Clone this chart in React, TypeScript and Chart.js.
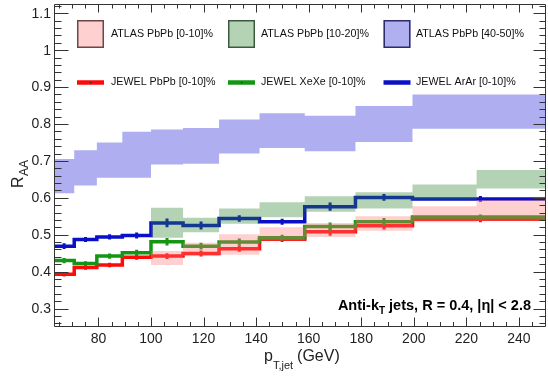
import React, { useEffect, useRef } from 'react';
import { Chart, registerables } from 'chart.js';
Chart.register(...registerables);

// ---- data ----
const jewelEdges = [63.1, 70.8, 79.4, 89.1, 100, 112.2, 125.9, 141.3, 158.5, 177.8, 199.5, 251.2];
const jewelPbPb = [0.393, 0.411, 0.418, 0.439, 0.442, 0.449, 0.462, 0.488, 0.508, 0.524, 0.542];
const jewelPbPbErr = [0.006, 0.006, 0.006, 0.007, 0.008, 0.008, 0.008, 0.008, 0.011, 0.010, 0.008];
const jewelXeXe = [0.430, 0.422, 0.442, 0.451, 0.481, 0.469, 0.480, 0.492, 0.522, 0.535, 0.548];
const jewelXeXeErr = [0.007, 0.006, 0.007, 0.008, 0.010, 0.009, 0.010, 0.008, 0.011, 0.010, 0.007];
const jewelArAr = [0.469, 0.487, 0.494, 0.498, 0.532, 0.525, 0.544, 0.535, 0.576, 0.601, 0.597];
const jewelArArErr = [0.008, 0.007, 0.007, 0.008, 0.012, 0.011, 0.009, 0.008, 0.011, 0.009, 0.008];

const atlasEdges = [63.1, 70.8, 79.4, 89.1, 100, 112.2, 125.9, 141.3, 158.5, 177.8, 199.5, 223.9, 251.2];
const atlas010Low = [null, null, null, null, 0.418, 0.442, 0.446, 0.484, 0.494, 0.511, 0.534, 0.537];
const atlas010High = [null, null, null, null, 0.456, 0.478, 0.501, 0.520, 0.532, 0.550, 0.577, 0.594];
const atlas1020Low = [null, null, null, null, 0.492, 0.507, 0.530, 0.547, 0.562, 0.571, 0.595, 0.625];
const atlas1020High = [null, null, null, null, 0.573, 0.546, 0.571, 0.588, 0.604, 0.615, 0.636, 0.675];
const atlas4050Low = [0.612, 0.633, 0.654, 0.654, 0.690, 0.692, 0.720, 0.735, 0.726, 0.751, 0.787, 0.787];
const atlas4050High = [0.705, 0.729, 0.750, 0.779, 0.785, 0.789, 0.812, 0.829, 0.822, 0.849, 0.880, 0.880];

const xTicks = [80, 100, 120, 140, 160, 180, 200, 220, 240];
const xTickLabels = ['80', '100', '120', '140', '160', '180', '200', '220', '240'];
const yTicks = [0.3, 0.4, 0.5, 0.6, 0.7, 0.8, 0.9, 1.0, 1.1];
const yTickLabels = ['0.3', '0.4', '0.5', '0.6', '0.7', '0.8', '0.9', '1', '1.1'];

const bandLabels = ['ATLAS PbPb [0-10]%', 'ATLAS PbPb [10-20]%', 'ATLAS PbPb [40-50]%'];
const lineLabels = ['JEWEL PbPb [0-10]%', 'JEWEL XeXe [0-10]%', 'JEWEL ArAr [0-10]%'];

const X_MIN = 63.1, X_MAX = 250.3, Y_MIN = 0.25, Y_MAX = 1.125;

// ---- styles ----
const RED = '#ff0a0a';
const GREEN = '#149614';
const BLUE = '#0a10c8';
const PINK_FILL = 'rgba(255,120,120,0.35)';
const GREEN_FILL = 'rgba(40,130,40,0.35)';
const BLUE_FILL = 'rgba(70,70,222,0.44)';
const FONT = '"Liberation Sans", Arial, Helvetica, sans-serif';

type Pt = { x: number; y: number | null };

function stepPoints(edges: number[], vals: (number | null)[]): Pt[] {
  const pts: Pt[] = [];
  for (let i = 0; i < vals.length; i++) {
    const v = vals[i];
    if (v == null) {
      if (pts.length && pts[pts.length - 1].y != null) pts.push({ x: edges[i], y: null });
      continue;
    }
    pts.push({ x: edges[i], y: v });
    const next = i + 1 < vals.length ? vals[i + 1] : null;
    if (next == null) pts.push({ x: edges[i + 1], y: v });
  }
  return pts;
}

function errPoints(edges: number[], vals: number[], errs: number[]): Pt[] {
  const pts: Pt[] = [];
  for (let i = 0; i < vals.length; i++) {
    const c = (edges[i] + edges[i + 1]) / 2;
    pts.push({ x: c, y: vals[i] - errs[i] });
    pts.push({ x: c, y: vals[i] + errs[i] });
    pts.push({ x: c, y: null });
  }
  return pts;
}

const bandDs = (pts: Pt[], fill: any, color: string) => ({
  data: pts,
  stepped: true,
  fill,
  backgroundColor: color,
  borderColor: 'rgba(0,0,0,0)',
  borderWidth: 1,
  pointRadius: 0,
  spanGaps: false,
  order: 0,
});

const lineDs = (pts: Pt[], color: string, order: number, stepped: boolean, width: number) => ({
  data: pts,
  stepped,
  fill: false,
  borderColor: color,
  backgroundColor: color,
  borderWidth: width,
  pointRadius: 0,
  spanGaps: false,
  borderCapStyle: 'butt',
  borderJoinStyle: 'miter',
  order,
});

const framePlugin = {
  id: 'rootFrame',
  afterDraw(chart: any) {
    const { ctx, chartArea: a, scales } = chart;
    const xs = scales.x, ys = scales.y;
    const L = Math.round(a.left) + 0.5, R = Math.round(a.right) - 0.5;
    const T = Math.round(a.top) + 0.5, B = Math.round(a.bottom) - 0.5;
    ctx.save();
    ctx.strokeStyle = '#333';
    ctx.lineWidth = 1;
    ctx.beginPath();
    ctx.rect(L, T, R - L, B - T);
    // x ticks
    for (let v = 65; v <= 250; v += 5) {
      const px = Math.round(xs.getPixelForValue(v)) + 0.5;
      if (px <= L || px >= R) continue;
      const major = v % 20 === 0;
      ctx.moveTo(px, B); ctx.lineTo(px, B - (major ? 9 : 4.5));
      ctx.moveTo(px, T); ctx.lineTo(px, T + (major ? 8 : 4));
    }
    // y ticks
    for (let k = 26; k <= 112; k += 2) {
      const v = k / 100;
      const py = Math.round(ys.getPixelForValue(v)) + 0.5;
      if (py <= T || py >= B) continue;
      const major = k % 10 === 0;
      ctx.moveTo(L, py); ctx.lineTo(L + (major ? 14 : 7), py);
      ctx.moveTo(R, py); ctx.lineTo(R - (major ? 12 : 6), py);
    }
    ctx.stroke();

    // tick labels
    ctx.fillStyle = '#222';
    ctx.font = `14px ${FONT}`;
    ctx.textAlign = 'center';
    ctx.textBaseline = 'alphabetic';
    xTicks.forEach((v, i) => {
      ctx.fillText(xTickLabels[i], xs.getPixelForValue(v), 343);
    });
    ctx.textAlign = 'right';
    ctx.textBaseline = 'middle';
    yTicks.forEach((v, i) => {
      ctx.fillText(yTickLabels[i], 51, ys.getPixelForValue(v) + 0.5);
    });

    // x title
    ctx.textAlign = 'left';
    ctx.textBaseline = 'alphabetic';
    let xx = 264;
    ctx.font = `16px ${FONT}`;
    ctx.fillText('p', xx, 361);
    xx += ctx.measureText('p').width;
    ctx.font = `11px ${FONT}`;
    ctx.fillText('T,jet', xx, 369);
    xx += ctx.measureText('T,jet').width + 4;
    ctx.font = `16px ${FONT}`;
    ctx.fillText('(GeV)', xx, 361);

    // y title
    ctx.save();
    ctx.translate(23, 188);
    ctx.rotate(-Math.PI / 2);
    ctx.font = `16px ${FONT}`;
    ctx.fillText('R', 0, 0);
    const rw = ctx.measureText('R').width;
    ctx.font = `12px ${FONT}`;
    ctx.fillText('AA', rw + 0.5, 4.5);
    ctx.restore();

    // annotation
    ctx.fillStyle = '#000';
    const p1 = 'Anti-k', p2 = 'T', p3 = ' jets, R = 0.4, |\u03b7| < 2.8';
    ctx.font = `bold 14.5px ${FONT}`;
    const w1 = ctx.measureText(p1).width, w3 = ctx.measureText(p3).width;
    ctx.font = `bold 10px ${FONT}`;
    const w2 = ctx.measureText(p2).width;
    let ax = 531 - (w1 + w2 + w3);
    ctx.font = `bold 14.5px ${FONT}`;
    ctx.fillText(p1, ax, 310);
    ax += w1;
    ctx.font = `bold 10px ${FONT}`;
    ctx.fillText(p2, ax, 314);
    ax += w2;
    ctx.font = `bold 14.5px ${FONT}`;
    ctx.fillText(p3, ax, 310);

    // legend
    const colBox = [77, 228, 383.5];
    const colText = [111, 261, 416];
    const boxFill = ['#ffd0d0', '#b4d3b4', '#b0b0f0'];
    const boxLine = ['#6e4646', '#3e5a3e', '#2c2c6c'];
    const lineCol = [RED, GREEN, BLUE];
    ctx.font = `10.7px ${FONT}`;
    ctx.textBaseline = 'middle';
    for (let i = 0; i < 3; i++) {
      ctx.fillStyle = boxFill[i];
      ctx.fillRect(colBox[i], 20, 27, 28);
      ctx.strokeStyle = boxLine[i];
      ctx.lineWidth = 1.5;
      ctx.strokeRect(colBox[i] + 0.75, 20.75, 25.5, 26.5);
      ctx.fillStyle = '#111';
      ctx.fillText(bandLabels[i], colText[i], 34.5);

      ctx.strokeStyle = lineCol[i];
      ctx.lineWidth = 4.5;
      ctx.beginPath();
      ctx.moveTo(colBox[i], 82.5);
      ctx.lineTo(colBox[i] + 27, 82.5);
      ctx.stroke();
      ctx.fillStyle = '#222';
      ctx.fillRect(colBox[i] + 13, 82, 1.2, 1.2);
      ctx.fillStyle = '#111';
      ctx.fillText(lineLabels[i], colText[i], 82.5);
    }
    ctx.restore();
  },
};

export default function App() {
  const ref = useRef<HTMLCanvasElement | null>(null);
  useEffect(() => {
    if (!ref.current) return;
    const datasets: any[] = [
      bandDs(stepPoints(atlasEdges, atlas4050High), '+1', BLUE_FILL),
      bandDs(stepPoints(atlasEdges, atlas4050Low), false, BLUE_FILL),
      bandDs(stepPoints(atlasEdges, atlas1020High), '+1', GREEN_FILL),
      bandDs(stepPoints(atlasEdges, atlas1020Low), false, GREEN_FILL),
      bandDs(stepPoints(atlasEdges, atlas010High), '+1', PINK_FILL),
      bandDs(stepPoints(atlasEdges, atlas010Low), false, PINK_FILL),
      lineDs(stepPoints(jewelEdges, jewelArAr), BLUE, 1, true, 3.5),
      lineDs(errPoints(jewelEdges, jewelArAr, jewelArArErr), BLUE, 1, false, 3),
      lineDs(stepPoints(jewelEdges, jewelXeXe), GREEN, 2, true, 3.5),
      lineDs(errPoints(jewelEdges, jewelXeXe, jewelXeXeErr), GREEN, 2, false, 3),
      lineDs(stepPoints(jewelEdges, jewelPbPb), RED, 3, true, 3.5),
      lineDs(errPoints(jewelEdges, jewelPbPb, jewelPbPbErr), RED, 3, false, 3),
    ];
    const chart = new Chart(ref.current, {
      type: 'line',
      data: { datasets },
      options: {
        animation: false,
        responsive: false,
        maintainAspectRatio: false,
        devicePixelRatio: 1,
        events: [],
        parsing: true,
        layout: { padding: { left: 54, right: 2, top: 4, bottom: 51 } },
        scales: {
          x: { type: 'linear', min: X_MIN, max: X_MAX, display: false },
          y: { type: 'linear', min: Y_MIN, max: Y_MAX, display: false },
        },
        plugins: { legend: { display: false }, tooltip: { enabled: false } },
      } as any,
      plugins: [framePlugin],
    });
    return () => chart.destroy();
  }, []);
  return (
    <div style={{ position: 'fixed', left: 0, top: 0, width: 548, height: 378, background: '#fff' }}>
      <canvas ref={ref} width={548} height={378} style={{ display: 'block', width: 548, height: 378 }} />
    </div>
  );
}
